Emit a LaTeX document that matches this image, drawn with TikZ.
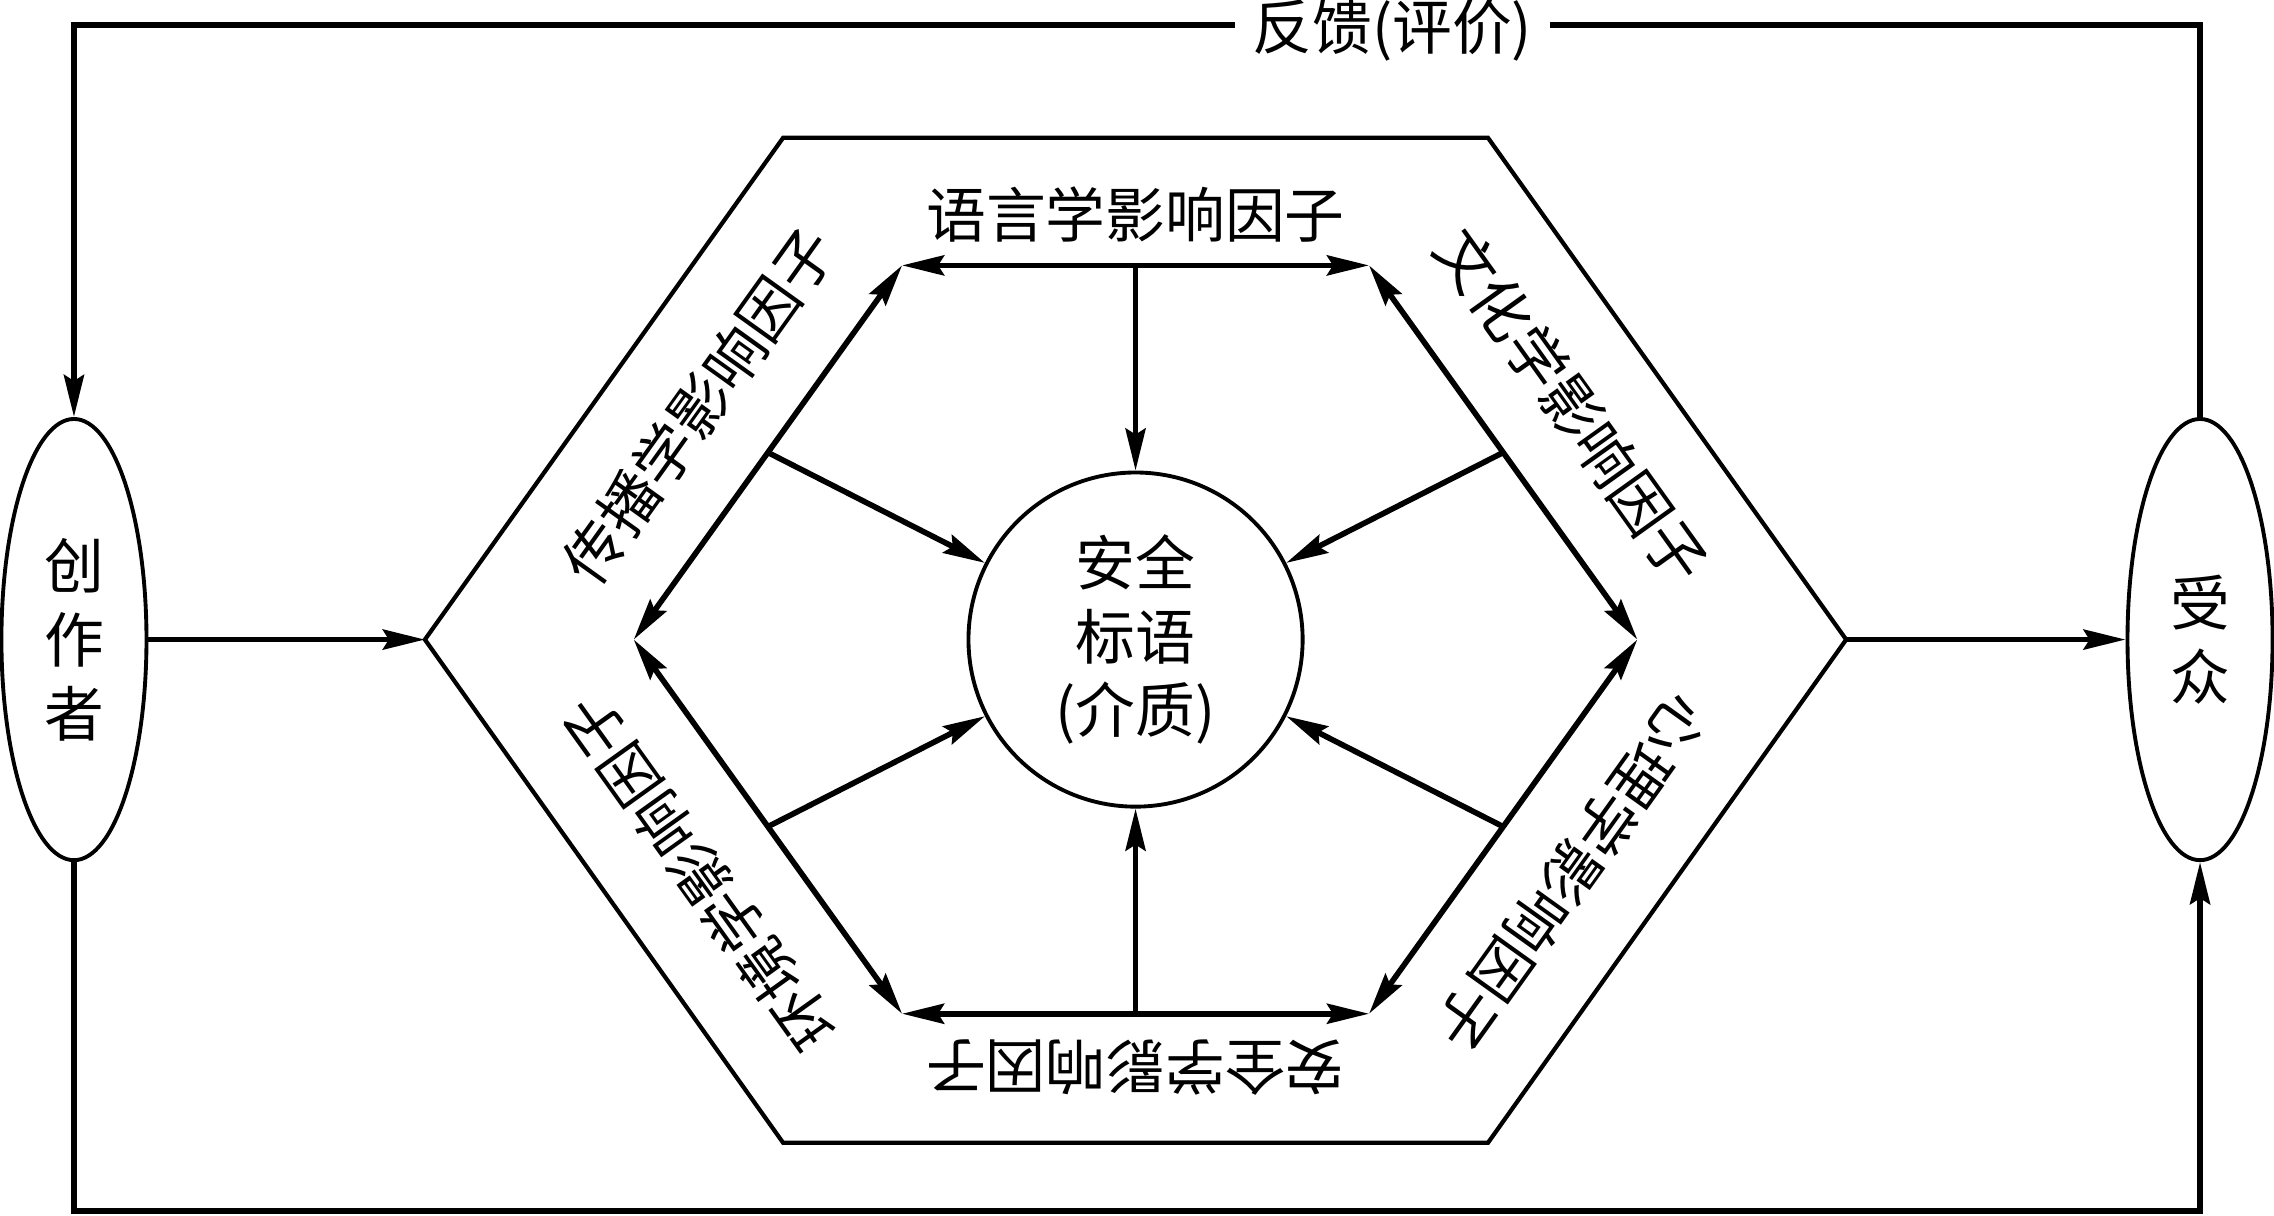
\documentclass[tikz,border=0pt]{standalone}
\usepackage{fontspec}
\newfontfamily\cjk{Noto Sans CJK SC}
\usetikzlibrary{arrows.meta,shapes.geometric,calc}

\begin{document}
\begin{tikzpicture}[x=0.0145cm,y=-0.0145cm,
  >={Stealth[length=4.2mm,width=2mm,inset=0.6mm]},
  txt/.style={font=\cjk\fontsize{17}{21}\selectfont,inner sep=0pt,align=center},
  actor/.style={ellipse,draw,line width=1.1pt,minimum width=1.45cm,minimum height=4.41cm,inner sep=0pt,txt},
  core/.style={circle,draw,line width=1.1pt,minimum size=3.34cm,inner sep=0pt,txt},
  flow/.style={->,line width=1.6pt},
  fback/.style={->,line width=1.7pt}]
  \useasboundingbox (0,0) rectangle (1568,838);
  % sender, receiver and medium
  \node[actor] (src) at (51,441) {创\\作\\者};
  \node[actor] (dst) at (1517,441) {受\\众};
  \node[core] (c) at (783,441) {安全\\标语\\(介质)};
  % outer hexagon
  \draw[line width=1.2pt] (293,441) coordinate (ol) -- (540,95) -- (1026,95)
    -- (1273,441) coordinate (or) -- (1026,788) -- (540,788) -- cycle;
  % inner hexagon of factors
  \coordinate (p1) at (622,183);
  \coordinate (p2) at (944,183);
  \coordinate (p3) at (1129,441);
  \coordinate (p4) at (944,699);
  \coordinate (p5) at (622,699);
  \coordinate (p6) at (437,441);
  \foreach \a/\b in {p1/p2,p2/p3,p3/p4,p4/p5,p5/p6,p6/p1}{
    \draw[<->,line width=1.6pt] (\a) -- (\b);
    \draw[flow] ($(\a)!0.5!(\b)$) -- (c);
  }
  \node[txt] (f1) at (783,148) {语言学影响因子};
  \node[txt,rotate=-54.4] (f2) at (1084,280) {文化学影响因子};
  \node[txt,rotate=-125.6] (f3) at (1084,602) {心理学影响因子};
  \node[txt,rotate=180] (f4) at (783,736) {安全学影响因子};
  \node[txt,rotate=125.6] (f5) at (482,602) {环境学影响因子};
  \node[txt,rotate=54.4] (f6) at (482,280) {传播学影响因子};
  % main flow
  \draw[flow] (src) -- (ol);
  \draw[flow] (or) -- (dst);
  % feedback loops
  \coordinate (top) at (783,17);
  \coordinate (bot) at (783,835);
  \draw[fback] (dst.north) |- (top) -| (src.north);
  \node[txt,fill=white,inner sep=5pt] (fb) at (960,21) {反馈(评价)};
  \draw[fback] (src.south) |- (bot) -| (dst.south);
\end{tikzpicture}
\end{document}
